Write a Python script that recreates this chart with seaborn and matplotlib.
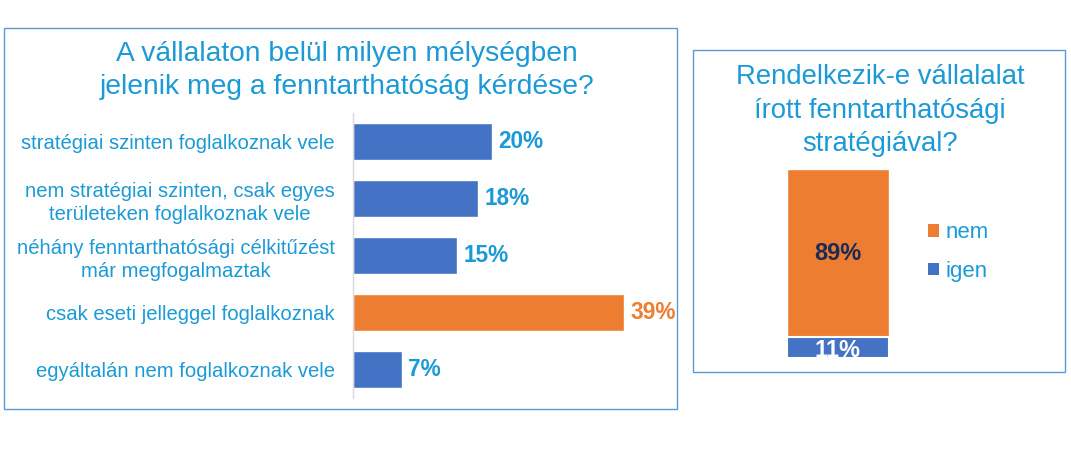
import matplotlib
matplotlib.use("Agg")
import matplotlib.pyplot as plt
from matplotlib.patches import Rectangle, Patch
import seaborn as sns
import pandas as pd

# ---- data ----
categories = [
    "stratégiai szinten foglalkoznak vele",
    "nem stratégiai szinten, csak egyes\nterületeken foglalkoznak vele",
    "néhány fenntarthatósági célkitűzést\nmár megfogalmaztak",
    "csak eseti jelleggel foglalkoznak",
    "egyáltalán nem foglalkoznak vele",
]
values = [20, 18, 15, 39, 7]
highlight = [False, False, False, True, False]

strategy_labels = ["nem", "igen"]
strategy_values = [89, 11]

title_left = "A vállalaton belül milyen mélységben\njelenik meg a fenntarthatóság kérdése?"
title_right = "Rendelkezik-e vállalalat\nírott fenntarthatósági\nstratégiával?"

# ---- style ----
sns.set_theme(style="white")
plt.rcParams["font.family"] = ["Liberation Sans", "DejaVu Sans"]

BLUE = "#4472c4"
ORANGE = "#ed7d31"
TXT = "#1b9ad6"
BORDER = "#5b9bd5"

W, H = 1071, 458
fig = plt.figure(figsize=(W / 100, H / 100), dpi=100)
fig.patch.set_facecolor("white")


def fx(x):
    return x / W


def fy(y):
    return 1 - y / H


def axes_px(left, top, right, bottom):
    return fig.add_axes([fx(left), fy(bottom), (right - left) / W, (bottom - top) / H])


# panel borders
fig.add_artist(Rectangle((fx(4), fy(409)), (677 - 4) / W, (409 - 28) / H,
                         transform=fig.transFigure, fill=False, edgecolor=BORDER, lw=1.0))
fig.add_artist(Rectangle((fx(693), fy(372)), (1065 - 693) / W, (372 - 50) / H,
                         transform=fig.transFigure, fill=False, edgecolor=BORDER, lw=1.0))

# ---- left chart ----
px_per_pct = (624 - 353) / 39
ax = axes_px(353, 113, 660, 398)
df = pd.DataFrame({"cat": categories, "val": values,
                   "grp": ["h" if h else "n" for h in highlight]})
sns.barplot(data=df, x="val", y="cat", hue="grp", palette={"n": BLUE, "h": ORANGE},
            orient="h", width=0.66, legend=False, dodge=False, ax=ax, saturation=1)
ax.set_xlim(0, (660 - 353) / px_per_pct)
ax.set_ylim(4.5, -0.5)
ax.set_xlabel("")
ax.set_ylabel("")
ax.set_xticks([])
for s in ["top", "right", "bottom"]:
    ax.spines[s].set_visible(False)
ax.spines["left"].set_color("#d9d9d9")
ax.spines["left"].set_linewidth(1.0)
ax.tick_params(axis="y", length=0, pad=13)
for lab in ax.get_yticklabels():
    lab.set_fontsize(14.6)
    lab.set_color(TXT)
    lab.set_multialignment("center")
    lab.set_linespacing(1.3)
for cont in ax.containers:
    for bar in cont:
        w = bar.get_width()
        if w != w or w == 0:
            continue
        col = ORANGE if abs(w - 39) < 0.01 else TXT
        ax.annotate(f"{w:.0f}%", (w, bar.get_y() + bar.get_height() / 2),
                    xytext=(4.5, 0), textcoords="offset points", va="center", ha="left",
                    fontsize=16.3, fontweight="bold", color=col)

fig.text(fx(347), fy(70.5), title_left, ha="center", va="center", fontsize=20.3,
         color=TXT, linespacing=1.38)

# ---- right chart ----
ax2 = axes_px(760, 169, 916, 358)
total = sum(strategy_values)
dfr = pd.DataFrame({"x": ["s"], "total": [total], "igen": [strategy_values[1]]})
sns.barplot(data=dfr, x="x", y="total", color=ORANGE, width=0.654, ax=ax2, saturation=1)
sns.barplot(data=dfr, x="x", y="igen", color=BLUE, width=0.654, ax=ax2, saturation=1,
            edgecolor="white", linewidth=1.5)
ax2.set_xlim(-0.5, 0.5)
ax2.set_ylim(0, 100)
ax2.axis("off")
ax2.text(0, strategy_values[1] + strategy_values[0] / 2, f"{strategy_values[0]}%",
         ha="center", va="center", fontsize=17, fontweight="bold", color="#1c2a55")
ax2.text(0, strategy_values[1] / 2 - 1.5, f"{strategy_values[1]}%",
         ha="center", va="center", fontsize=17, fontweight="bold", color="white")

fig.text(fx(880), fy(110.5), title_right, ha="center", va="center", fontsize=19.8,
         color=TXT, linespacing=1.38)

handles = [Patch(facecolor=ORANGE, edgecolor="none"), Patch(facecolor=BLUE, edgecolor="none")]
leg = fig.legend(handles, strategy_labels, loc="center left",
                 bbox_to_anchor=(fx(908), fy(252)), frameon=False, fontsize=16,
                 handlelength=0.5, handleheight=0.5, handletextpad=0.3, labelspacing=0.8)
for t in leg.get_texts():
    t.set_color(TXT)

fig.savefig("out.png", dpi=100, facecolor="white")
